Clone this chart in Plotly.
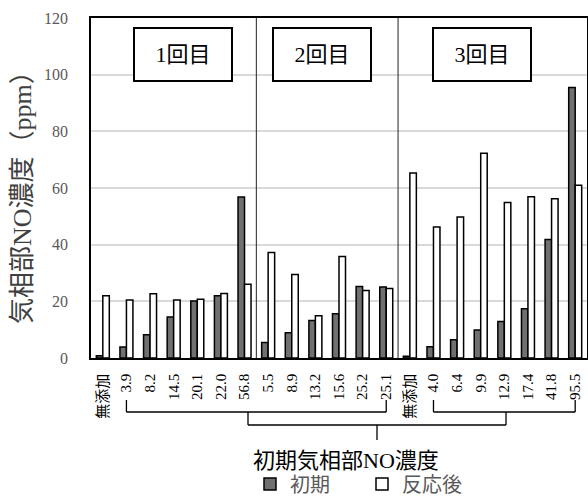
import plotly.graph_objects as go

labels = ["無添加", "3.9", "8.2", "14.5", "20.1", "22.0", "56.8",
          "5.5", "8.9", "13.2", "15.6", "25.2", "25.1",
          "無添加", "4.0", "6.4", "9.9", "12.9", "17.4", "41.8", "95.5"]
initial = [0.8, 3.9, 8.2, 14.5, 20.1, 22.0, 56.8,
           5.5, 8.9, 13.2, 15.6, 25.2, 25.1,
           0.6, 4.0, 6.4, 9.9, 12.9, 17.4, 41.8, 95.5]
after = [22.0, 20.5, 22.7, 20.5, 20.7, 22.8, 26.0,
         37.2, 29.5, 14.9, 35.8, 23.8, 24.5,
         65.3, 46.2, 49.8, 72.3, 54.9, 56.9, 56.2, 61.0]
runs = ["1回目", "2回目", "3回目"]
series_names = ["初期", "反応後"]

FONT = "Liberation Serif, 'Noto Sans CJK JP', serif"
xs = list(range(len(labels)))
N = len(labels)

fig = go.Figure()
fig.add_trace(go.Bar(x=xs, y=initial, name=series_names[0],
                     marker=dict(color="#707070", line=dict(color="black", width=1.5))))
fig.add_trace(go.Bar(x=xs, y=after, name=series_names[1],
                     marker=dict(color="white", line=dict(color="black", width=1.5))))

def px(i):
    return (i + 0.5) / N

def yp(pix):
    return (358 - pix) / 340.0

def xpp(pix):
    return (pix - 91) / 496.0

shapes = []
for b in [6.5, 12.5]:
    shapes.append(dict(type="line", xref="x", yref="paper", x0=b, x1=b, y0=0, y1=1,
                       line=dict(color="#222", width=1)))

lw = dict(color="black", width=1.3)
b1l, b1r = px(1), px(12)
b2l, b2r = px(14), px(20)
stem1 = xpp(248)
stem2 = xpp(506)
for (l, r) in [(b1l, b1r), (b2l, b2r)]:
    shapes.append(dict(type="line", xref="paper", yref="paper", x0=l, x1=r, y0=yp(412), y1=yp(412), line=lw))
    shapes.append(dict(type="line", xref="paper", yref="paper", x0=l, x1=l, y0=yp(400), y1=yp(412), line=lw))
    shapes.append(dict(type="line", xref="paper", yref="paper", x0=r, x1=r, y0=yp(400), y1=yp(412), line=lw))
for s in [stem1, stem2]:
    shapes.append(dict(type="line", xref="paper", yref="paper", x0=s, x1=s, y0=yp(412), y1=yp(425), line=lw))
shapes.append(dict(type="line", xref="paper", yref="paper", x0=stem1, x1=stem2, y0=yp(425), y1=yp(425), line=lw))
mid = (stem1 + stem2) / 2
shapes.append(dict(type="line", xref="paper", yref="paper", x0=mid, x1=mid, y0=yp(425), y1=yp(440), line=lw))

annotations = []
for run, cx in zip(runs, [183, 321.5, 482]):
    annotations.append(dict(text=run, xref="paper", yref="paper", x=xpp(cx), y=yp(54.5),
                            xanchor="center", yanchor="middle", showarrow=False,
                            font=dict(family=FONT, size=22, color="black"),
                            bordercolor="black", borderwidth=2, borderpad=0,
                            width=96, height=51, bgcolor="white"))
annotations.append(dict(text="初期気相部NO濃度", xref="paper", yref="paper", x=xpp(346), y=yp(460),
                        xanchor="center", yanchor="middle", showarrow=False,
                        font=dict(family=FONT, size=22, color="black")))
annotations.append(dict(text="気相部NO濃度（ppm）", xref="paper", yref="paper", x=xpp(22), y=yp(191),
                        xanchor="center", yanchor="middle", showarrow=False, textangle=-90,
                        font=dict(family=FONT, size=26, color="#404040")))

fig.update_layout(
    width=588, height=497,
    margin=dict(l=91, r=1, t=18, b=139, autoexpand=False),
    plot_bgcolor="white", paper_bgcolor="white",
    barmode="group", bargap=0.45, bargroupgap=0,
    showlegend=True,
    legend=dict(orientation="h", x=xpp(250), y=yp(484), xanchor="left", yanchor="middle",
                font=dict(family=FONT, size=20, color="#595959"), itemwidth=30,
                entrywidth=67, bgcolor="rgba(0,0,0,0)"),
    shapes=shapes, annotations=annotations,
    font=dict(family=FONT),
)
fig.update_xaxes(tickmode="array", tickvals=xs, ticktext=labels, tickangle=-90,
                 range=[-0.5, N - 0.5], showline=True, linecolor="black", linewidth=1.5,
                 mirror=True, ticks="", showgrid=False, automargin=False,
                 ticklabelstandoff=8,
                 tickfont=dict(family=FONT, size=15, color="black"))
fig.update_yaxes(range=[0, 120], tickvals=[0, 20, 40, 60, 80, 100, 120],
                 showline=True, linecolor="black", linewidth=1.5, mirror=True,
                 showgrid=True, gridcolor="#d9d9d9", gridwidth=1.5, zeroline=False,
                 ticks="", ticklabelstandoff=18, automargin=False,
                 tickfont=dict(family=FONT, size=16, color="#595959"))

fig.write_html("out.html")
